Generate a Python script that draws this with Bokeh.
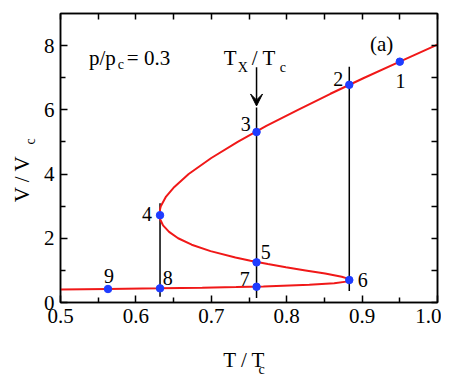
import math
from bokeh.plotting import figure
from bokeh.models import (ColumnDataSource, FixedTicker, LinearAxis, Label, Arrow,
                          VeeHead, CustomJSTickFormatter, Range1d)
from bokeh.core.properties import value
from bokeh.embed import file_html
from bokeh.resources import INLINE

# --- data (van der Waals isobar, p/pc = 0.3) ---
curve_V = [0.405, 0.42, 0.44, 0.46, 0.48, 0.50, 0.55, 0.60, 0.65, 0.70, 0.75, 0.80,
           0.90, 1.00, 1.10, 1.20, 1.30, 1.40, 1.60, 1.80, 2.00, 2.20, 2.40, 2.50,
           2.60, 2.70, 2.80, 2.90, 3.00, 3.30, 3.60, 4.00, 4.50, 5.00, 5.50, 6.00,
           6.50, 7.00, 7.50, 8.00, 8.05]
curve_T = [0.500, 0.563, 0.632, 0.688, 0.733, 0.769, 0.830, 0.863, 0.879, 0.883, 0.880, 0.873,
           0.851, 0.825, 0.799, 0.775, 0.752, 0.732, 0.699, 0.674, 0.656, 0.644, 0.636, 0.634,
           0.632, 0.6315, 0.632, 0.632, 0.633, 0.640, 0.651, 0.670, 0.700, 0.735, 0.773, 0.815,
           0.858, 0.903, 0.950, 0.997, 1.002]

point_names = ["1", "2", "3", "4", "5", "6", "7", "8", "9"]
point_T = [0.950, 0.883, 0.760, 0.632, 0.760, 0.883, 0.760, 0.632, 0.563]
point_V = [7.50, 6.78, 5.31, 2.72, 1.25, 0.70, 0.49, 0.44, 0.42]

label_T = [0.951, 0.8685, 0.7457, 0.6146, 0.7722, 0.9007, 0.7444, 0.6424, 0.5642]
label_V = [6.90, 6.96, 5.56, 2.76, 1.58, 0.70, 0.74, 0.77, 0.83]

vline_T = [0.632, 0.760, 0.883]
vline_Vlo = [0.18, 0.14, 0.36]
vline_Vhi = [3.09, 6.07, 7.34]

x_ticks = [0.5, 0.6, 0.7, 0.8, 0.9, 1.0]
x_minor = [0.55, 0.65, 0.75, 0.85, 0.95]
y_ticks = [0, 2, 4, 6, 8]
y_minor = [1, 3, 5, 7]

T_X = 0.760
FONT = "'Liberation Serif', serif"
RED = "#f01818"
BLUE = "#1f3cff"

p = figure(width=441, height=376, output_backend="svg", toolbar_location=None,
           x_range=Range1d(0.5, 1.0), y_range=Range1d(0, 9),
           min_border_left=60, min_border_right=4, min_border_top=13, min_border_bottom=74)
p.xgrid.visible = False
p.ygrid.visible = False
p.outline_line_color = "black"
p.outline_line_width = 1.5
p.background_fill_color = "white"
p.border_fill_color = "white"

def style_axis(ax, ticks, minor, standoff, tin=7, tmin=5):
    ax.ticker = FixedTicker(ticks=ticks, minor_ticks=minor)
    ax.axis_line_color = "black"
    ax.axis_line_width = 1.5
    ax.major_tick_in = tin
    ax.major_tick_out = 0
    ax.minor_tick_in = tmin
    ax.minor_tick_out = 0
    ax.major_tick_line_color = "black"
    ax.major_tick_line_width = 1.5
    ax.minor_tick_line_color = "black"
    ax.minor_tick_line_width = 1.5
    ax.major_label_text_font = FONT
    ax.major_label_text_font_size = "21px"
    ax.major_label_text_color = "black"
    ax.major_label_standoff = standoff

style_axis(p.xaxis[0], x_ticks, x_minor, 6)
p.xaxis[0].formatter = CustomJSTickFormatter(code="return tick.toFixed(1)")
style_axis(p.yaxis[0], y_ticks, y_minor, 6)

# top / right axes: ticks only (all as minor ticks, so no labels are drawn)
top_ax = LinearAxis()
style_axis(top_ax, [], x_ticks + x_minor, 0, tin=6, tmin=6)
p.add_layout(top_ax, "above")
right_ax = LinearAxis()
style_axis(right_ax, [], y_ticks + y_minor, 0, tin=6, tmin=6)
p.add_layout(right_ax, "right")

# vertical black lines
p.segment(x0=vline_T, y0=vline_Vlo, x1=vline_T, y1=vline_Vhi, line_color="black", line_width=1.5)

# red isobar
p.line(x=curve_T, y=curve_V, line_color=RED, line_width=2)

# blue points
p.scatter(x=point_T, y=point_V, size=7.5, fill_color=BLUE, line_color=BLUE)

# point labels
lab_src = ColumnDataSource(dict(x=label_T, y=label_V, t=point_names))
p.text(x="x", y="y", text="t", source=lab_src, text_font=value(FONT), text_font_size="20px",
       text_align="center", text_baseline="middle", text_color="black")

# arrow for T_X / T_c
p.add_layout(Arrow(end=VeeHead(size=12, fill_color="black", line_color="black", line_width=1),
                   x_start=T_X, y_start=7.33, x_end=T_X, y_end=6.12,
                   line_color="black", line_width=1.5))

def lab(text, x, y, size="21px", angle=0.0, align="left", units="data", place="center"):
    obj = Label(x=x, y=y, text=text, text_font=FONT, text_font_size=size,
                text_color="black", text_align=align, text_baseline="alphabetic",
                angle=angle, x_units=units, y_units=units)
    if place == "center":
        p.add_layout(obj)
    else:
        p.add_layout(obj, place)

# T_X / T_c annotation
lab("T", 0.7166, 7.62)
lab("X", 0.7351, 7.33, size="14px")
lab("/ T", 0.7536, 7.62)
lab("c", 0.7907, 7.33, size="14px")

# p/p_c = 0.3
lab("p/p", 0.5377, 7.62)
lab("c", 0.5758, 7.415, size="14px")
lab("= 0.3", 0.5880, 7.62)

# (a)
lab("(a)", 0.9258, 8.05, align="center")

# axis labels (canvas pixel positions, placed in side panels so they are not clipped)
lab("T / T", 222.7, 359.3, units="canvas", place="below")
lab("c", 258.0, 369.3, size="14px", units="canvas", place="below")
lab("V / V", 21.0, 201.7, angle=math.pi / 2, units="canvas", place="left")
lab("c", 30.0, 144.0, size="14px", angle=math.pi / 2, units="canvas", place="left")

open("out.html", "w").write(file_html(p, INLINE))
